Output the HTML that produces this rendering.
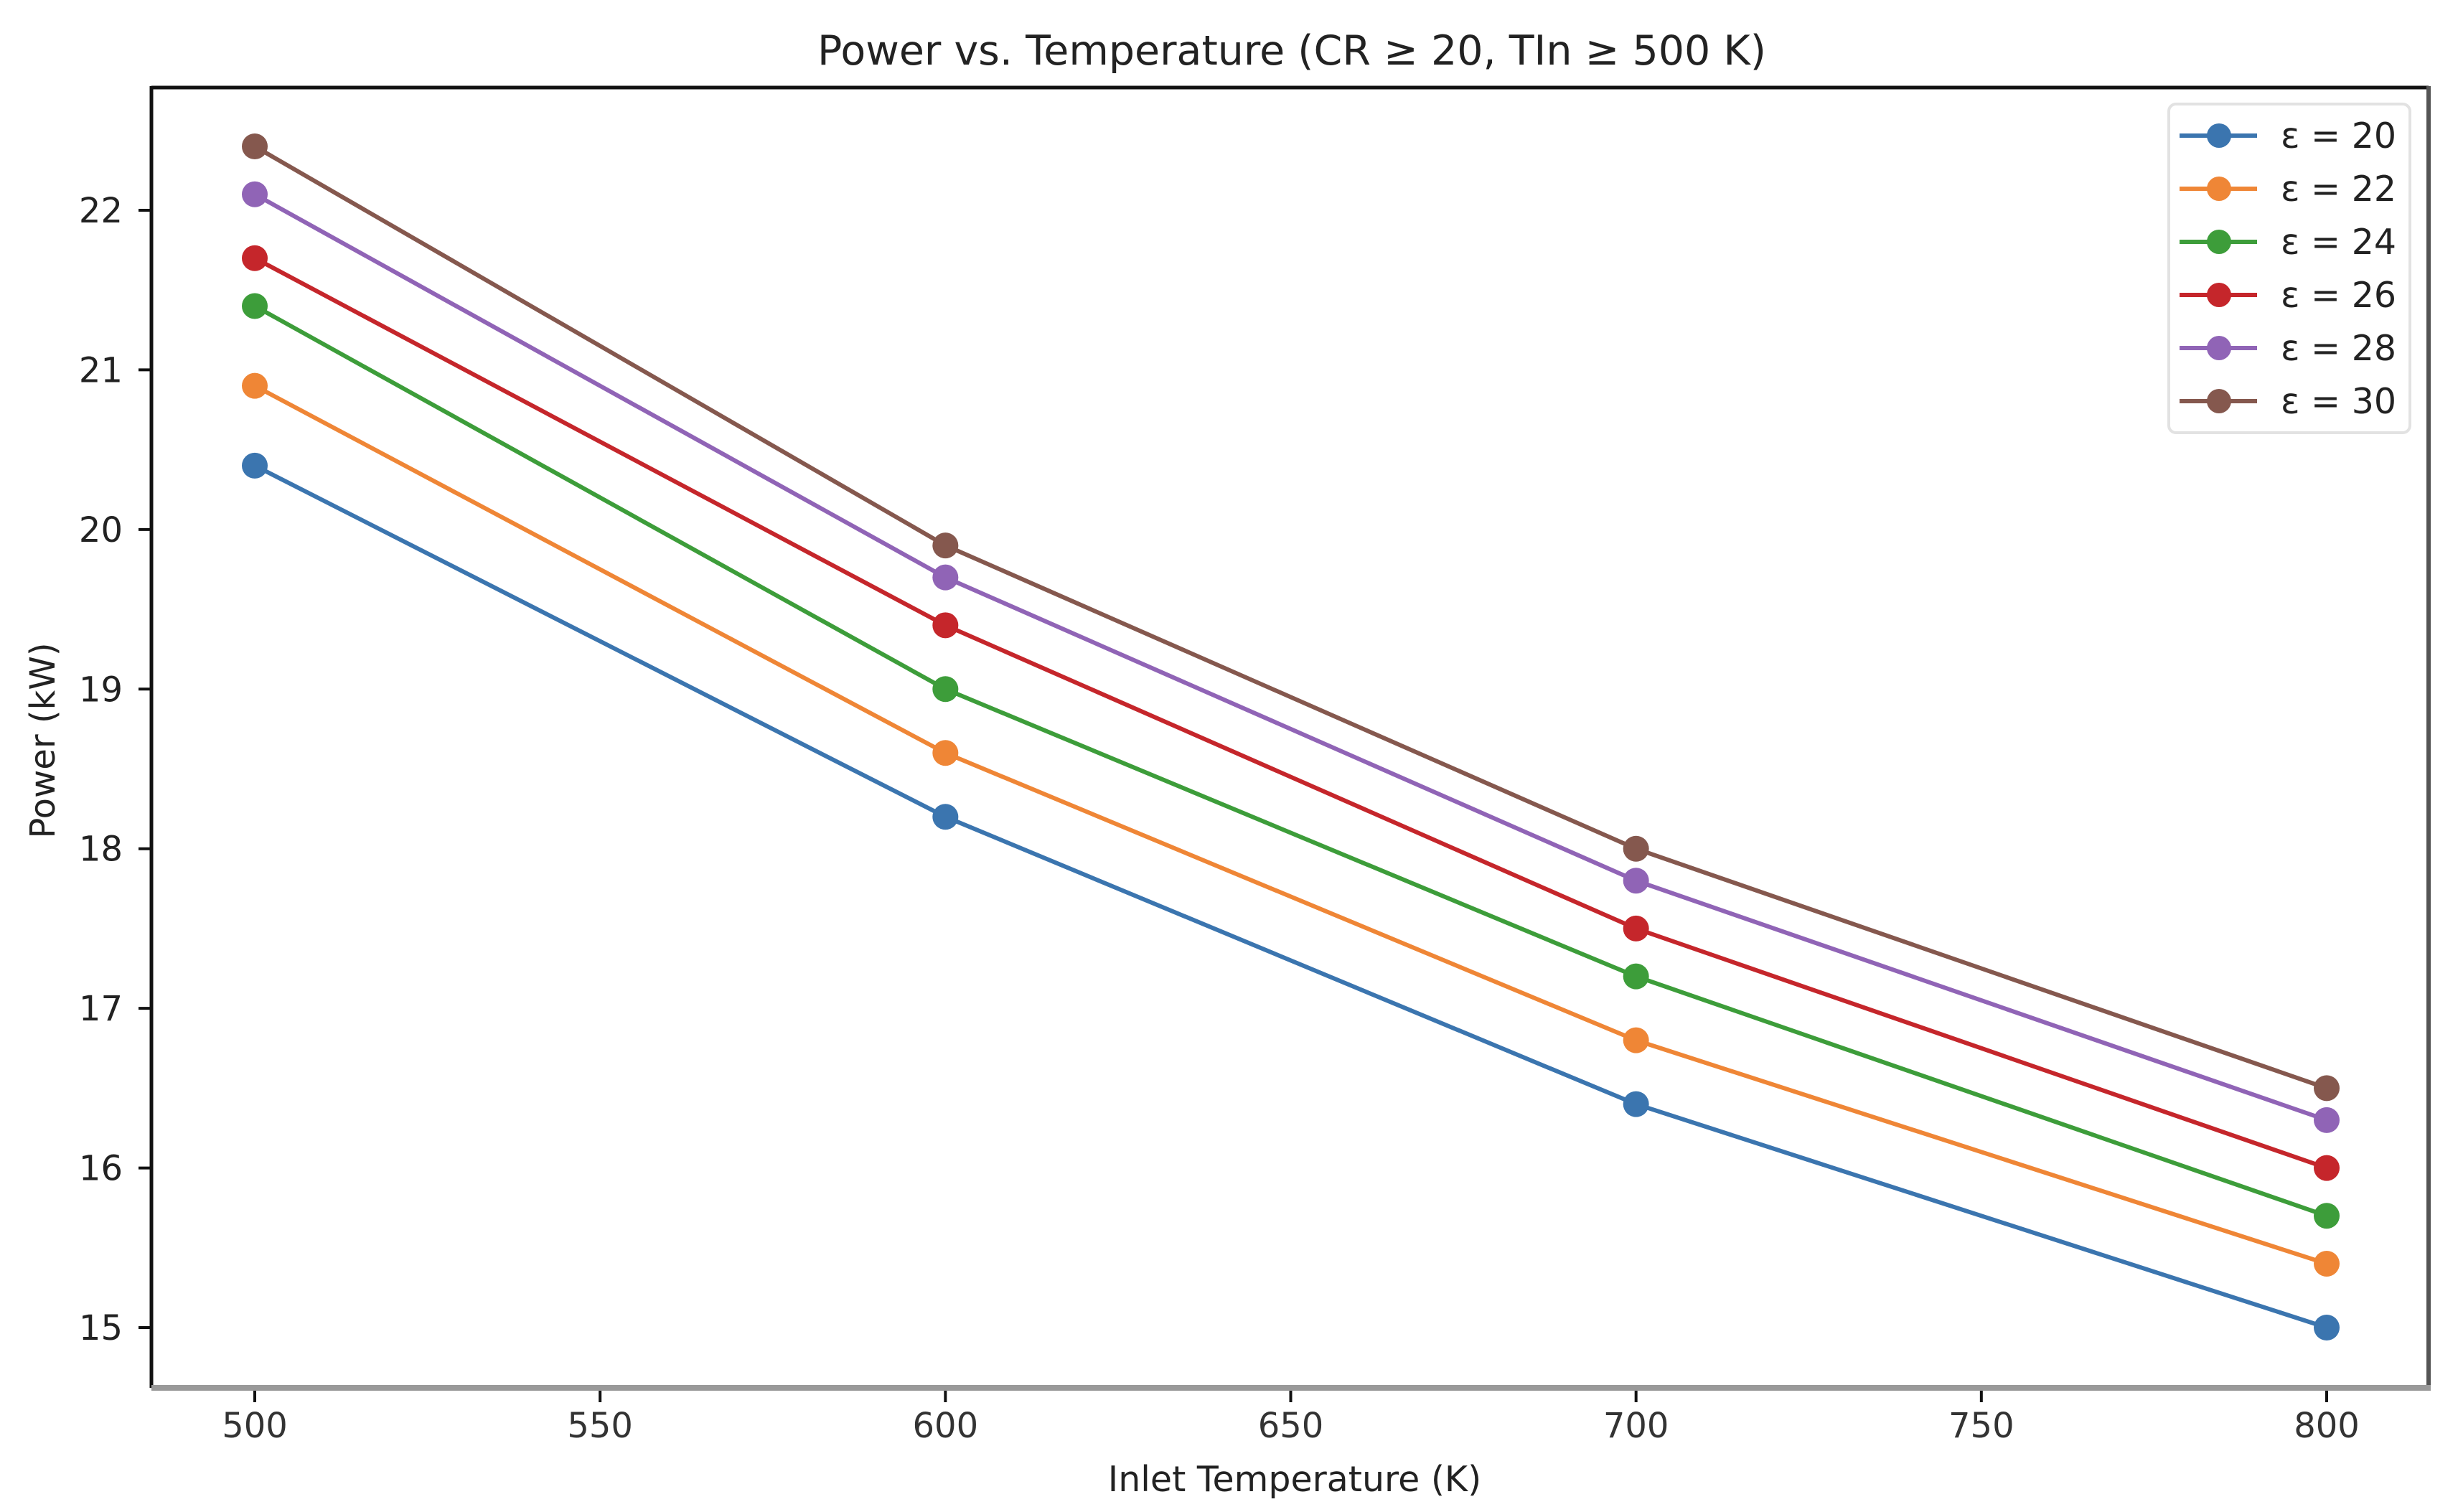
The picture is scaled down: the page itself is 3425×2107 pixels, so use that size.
<!DOCTYPE html>
<html><head><meta charset="utf-8"><style>
html,body{margin:0;padding:0;background:#fff;}
svg{display:block;font-family:"DejaVu Sans","Liberation Sans",sans-serif;}
</style></head><body>
<svg id="chart" width="3425" height="2107" viewBox="0 0 3425 2107">
<rect x="0" y="0" width="3425" height="2107" fill="#fff"/>
<text x="1800" y="90" font-size="57" text-anchor="middle" fill="#222">Power vs. Temperature (CR ≥ 20, TIn ≥ 500 K)</text>
<g id="axes"></g>
<g id="series"></g>
<g id="legend"></g>
<text x="1804" y="2078" font-size="49" text-anchor="middle" fill="#222">Inlet Temperature (K)</text>
<text x="0" y="0" font-size="48" text-anchor="middle" fill="#222" transform="translate(76,1032) rotate(-90)">Power (kW)</text>
</svg>
<script>
const categories = [500, 600, 700, 800];
const seriesLabels = ["ε = 20", "ε = 22", "ε = 24", "ε = 26", "ε = 28", "ε = 30"];
const s20 = [20.4, 18.2, 16.4, 15.0];
const s22 = [20.9, 18.6, 16.8, 15.4];
const s24 = [21.4, 19.0, 17.2, 15.7];
const s26 = [21.7, 19.4, 17.5, 16.0];
const s28 = [22.1, 19.7, 17.8, 16.3];
const s30 = [22.4, 19.9, 18.0, 16.5];
const xTicks = [500, 550, 600, 650, 700, 750, 800];
const yTicks = [15, 16, 17, 18, 19, 20, 21, 22];

const allSeries = [s20, s22, s24, s26, s28, s30];
const colors = ["#3b75af", "#ef8636", "#3d9d3a", "#c5262b", "#9064b6", "#85584e"];
const NS = "http://www.w3.org/2000/svg";
const L = 211, R = 3384, T = 122, B = 1934;
function xs(v){ return 355 + (v - 500) * (3242 - 355) / 300; }
function ys(v){ return 1850 - (v - 15) * (1850 - 293) / 7; }
function mk(tag, attrs, parent){ const e = document.createElementNS(NS, tag); for (const k in attrs) e.setAttribute(k, attrs[k]); parent.appendChild(e); return e; }

const axes = document.getElementById('axes');
let f = mk('rect', {x:L, y:T, width:R-L, height:B-T, fill:'none'}, axes);


let e;
e = mk('line', {x1:L, y1:T, x2:R, y2:T, stroke:'#111', 'stroke-width':5}, axes);
 
e = mk('line', {x1:L, y1:T-2, x2:L, y2:B, stroke:'#111', 'stroke-width':5}, axes);
 
e = mk('line', {x1:R, y1:T-2, x2:R, y2:B+4, stroke:'#555', 'stroke-width':6}, axes);
 
e = mk('line', {x1:L, y1:B, x2:R+3, y2:B, stroke:'#999', 'stroke-width':8}, axes);
 

xTicks.forEach(v => {
  const x = xs(v);
  const t = mk('line', {x1:x, y1:B+4, x2:x, y2:B+20, stroke:'#111', 'stroke-width':4}, axes);
  
  
  const tx = mk('text', {x:x, y:2003, 'font-size':48, 'text-anchor':'middle', fill:'#333'}, axes);
  tx.textContent = v;
  
  
});
yTicks.forEach(v => {
  const y = ys(v);
  const t = mk('line', {x1:L-18, y1:y, x2:L, y2:y, stroke:'#111', 'stroke-width':4}, axes);
  
  
  const tx = mk('text', {x:171, y:y+17, 'font-size':48, 'text-anchor':'end', fill:'#222'}, axes);
  tx.textContent = v;
  
  
});

const sg = document.getElementById('series');
allSeries.forEach((vals, i) => {
  const g = mk('g', {}, sg);
  
  
  const pts = vals.map((v, j) => xs(categories[j]) + ',' + ys(v)).join(' ');
  const pl = mk('polyline', {points:pts, fill:'none', stroke:colors[i], 'stroke-width':6, 'stroke-linejoin':'round'}, g);
  
  
  vals.forEach((v, j) => {
    const c = mk('circle', {cx:xs(categories[j]), cy:ys(v), r:18, fill:colors[i]}, g);
    
    
  });
});

const lg = document.getElementById('legend');
const box = mk('rect', {x:3022, y:145, width:336, height:458, rx:10, fill:'#fff', 'fill-opacity':0.9, stroke:'#e2e2e2', 'stroke-width':4}, lg);


seriesLabels.forEach((lab, i) => {
  const y = 189 + i * 74;
  const g = mk('g', {}, lg);
  
  
  mk('line', {x1:3037, y1:y, x2:3145, y2:y, stroke:colors[i], 'stroke-width':6}, g);
  mk('circle', {cx:3092, cy:y, r:17, fill:colors[i]}, g);
  const t = mk('text', {x:3178, y:y+17, 'font-size':49, fill:'#222'}, g);
  t.textContent = lab;
  
  
});
</script>
</body></html>
